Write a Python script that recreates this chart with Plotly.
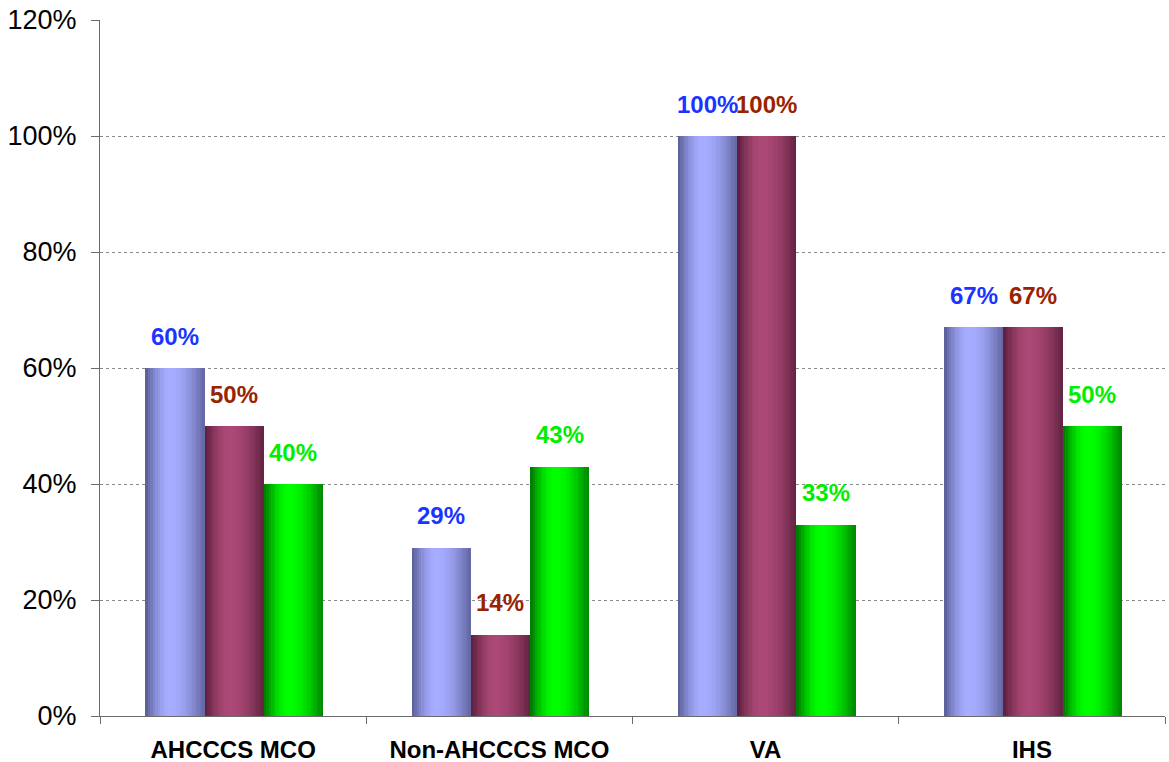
import math
import plotly.graph_objects as go

categories = ["AHCCCS MCO", "Non-AHCCCS MCO", "VA", "IHS"]
series_names = ["Series 1", "Series 2", "Series 3"]
values_s1 = [60, 29, 100, 67]
values_s2 = [50, 14, 100, 67]
values_s3 = [40, 43, 33, 50]
y_tick_vals = [0, 20, 40, 60, 80, 100, 120]
y_tick_text = ["0%", "20%", "40%", "60%", "80%", "100%", "120%"]

all_values = [values_s1, values_s2, values_s3]
# gradient endpoints (dark edge, light centre) per series
dark_cols = [(88, 92, 148), (88, 30, 58), (0, 115, 0)]
light_cols = [(166, 172, 255), (172, 72, 118), (0, 255, 0)]
label_cols = ["#1A35FF", "#992200", "#00EE00"]

bar_w = 0.2225
group_start = -1.5 * bar_w + 0.004
n_slices = 24
slice_w = bar_w / n_slices
peak = 0.42


def shade(t):
    if t <= peak:
        f = math.sin(math.pi / 2 * t / peak)
    else:
        f = math.cos(math.pi / 2 * (t - peak) / (1 - peak) * 0.93)
    return f


fig = go.Figure()
for si, vals in enumerate(all_values):
    base_off = group_start + si * bar_w
    for k in range(n_slices):
        t = (k + 0.5) / n_slices
        f = shade(t)
        d, l = dark_cols[si], light_cols[si]
        c = tuple(int(round(d[j] + (l[j] - d[j]) * f)) for j in range(3))
        fig.add_trace(go.Bar(
            x=categories, y=vals,
            width=slice_w * 1.04, offset=base_off + k * slice_w,
            marker=dict(color="rgb(%d,%d,%d)" % c, line=dict(width=0)),
            name=series_names[si], showlegend=False, hoverinfo="skip",
        ))

annotations = []
for si, vals in enumerate(all_values):
    centre = group_start + (si + 0.5) * bar_w
    for ci, v in enumerate(vals):
        annotations.append(dict(
            x=ci + centre, y=v, xref="x", yref="y",
            text="<b>%d%%</b>" % v, showarrow=False,
            yanchor="middle", yshift=32,
            font=dict(family="Liberation Sans, Arial", size=24, color=label_cols[si]),
        ))

fig.update_layout(
    width=1169, height=762,
    margin=dict(l=100, r=4, t=20, b=46, autoexpand=False),
    paper_bgcolor="white", plot_bgcolor="white",
    barmode="overlay", bargap=0,
    showlegend=False,
    annotations=annotations,
    font=dict(family="Liberation Sans, Arial", color="black"),
)
fig.update_xaxes(
    type="category", categoryorder="array", categoryarray=categories,
    range=[-0.5, 3.5], automargin=False,
    showline=True, linecolor="#6b6b6b", linewidth=1.2,
    ticks="outside", tickson="boundaries", ticklen=7, tickcolor="#6b6b6b",
    showgrid=False, tickfont=dict(size=24, family="Liberation Sans, Arial", color="black"),
    tickvals=categories, ticktext=["<b>%s</b>" % c for c in categories],
    ticklabelstandoff=12, ticklabeloverflow="allow",
)
fig.update_yaxes(
    range=[0, 120], tickvals=y_tick_vals, ticktext=y_tick_text, automargin=False,
    showline=True, linecolor="#6b6b6b", linewidth=1.2,
    ticks="outside", ticklen=8, tickcolor="#6b6b6b",
    showgrid=True, gridcolor="#8a8a8a", griddash="dot", gridwidth=1,
    tickfont=dict(size=27, family="Liberation Sans, Arial", color="black"),
    ticklabelstandoff=9, zeroline=False, ticklabeloverflow="allow",
)
fig.write_html("out.html", config={"displayModeBar": False},
               post_script="document.body.style.margin='0';")
